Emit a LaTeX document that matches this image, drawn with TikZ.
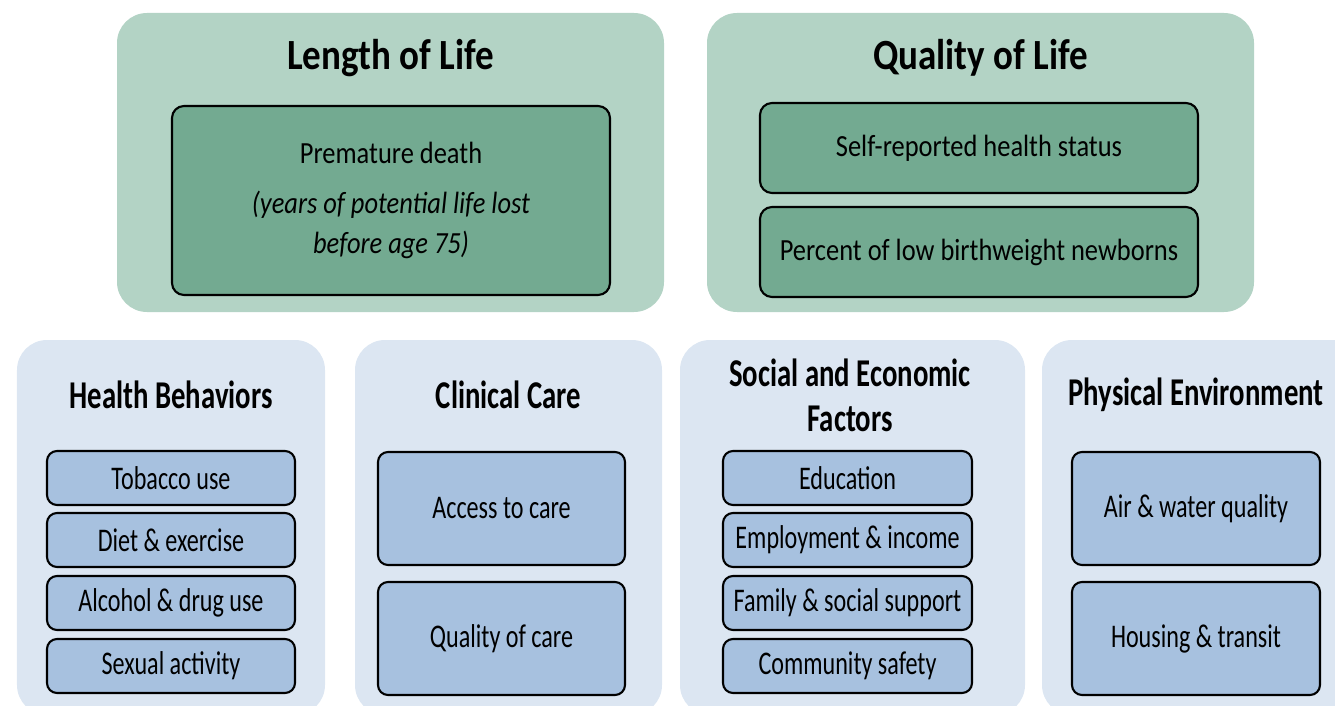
\documentclass[tikz,border=0pt]{standalone}
\usepackage{fontspec}
\setmainfont{Carlito}
% narrow cuts of the same family, for the tall lettering
\newfontfamily\outcomefont{Carlito}[FakeStretch=0.86]
\newfontfamily\factorfont{Carlito}[FakeStretch=0.73]
\definecolor{outcomeouter}{RGB}{179,211,197}
\definecolor{outcomeinner}{RGB}{115,170,145}
\definecolor{factorouter}{RGB}{220,230,242}
\definecolor{factorinner}{RGB}{167,193,223}
\tikzset{
  outcomebox/.style={fill=outcomeouter, rounded corners=0.6cm, inner sep=0pt},
  outcomeitem/.style={draw, line width=1.2pt, rounded corners=0.24cm, fill=outcomeinner, align=center, font=\outcomefont\fontsize{17.5}{20}\selectfont},
  factorbox/.style={fill=factorouter, rounded corners=0.6cm, inner sep=0pt},
  factoritem/.style={draw, line width=1.2pt, rounded corners=0.2cm, fill=factorinner, align=center, font=\factorfont\fontsize{18.8}{21}\selectfont},
  toptitle/.style={font=\outcomefont\bfseries\fontsize{24.5}{28}\selectfont},
  facttitle/.style={font=\factorfont\bfseries\fontsize{22.4}{25.5}\selectfont, align=center}
}
\begin{document}
\begin{tikzpicture}
    \path[use as bounding box, clip] (0,0) rectangle (26.7,-14.12);

    % Health outcomes: Length of Life, Quality of Life
    \node[outcomebox, minimum width=10.94cm, minimum height=5.98cm] (length) at (7.81,-3.25) {};
    \node[toptitle] (lengthtitle) at (7.81,-1.16) {Length of Life};
    \node[outcomeitem, minimum width=8.76cm, minimum height=3.78cm, font=\outcomefont\fontsize{17.5}{22.7}\selectfont] (death) at (7.82,-4.01)
        {Premature death\\[5.7pt]\textit{(years of potential life lost}\\\textit{before age 75)}};

    \node[outcomebox, minimum width=10.94cm, minimum height=5.98cm] (quality) at (19.61,-3.25) {};
    \node[toptitle] (qualitytitle) at (19.61,-1.16) {Quality of Life};
    \node[outcomeitem, minimum width=8.76cm, minimum height=1.8cm] (selfrep) at (19.58,-2.96) {Self-reported health status};
    \node[outcomeitem, minimum width=8.76cm, minimum height=1.8cm] (birthwt) at (19.58,-5.04) {Percent of low birthweight newborns};

    % Health factors
    \node[factorbox, minimum width=6.16cm, minimum height=7.5cm] (behav) at (3.42,-10.55) {};
    \node[facttitle] (behavtitle) at (3.42,-7.9) {Health Behaviors};
    \node[factoritem, minimum width=4.96cm, minimum height=1.08cm] (tobacco) at (3.42,-9.56) {Tobacco use};
    \node[factoritem, minimum width=4.96cm, minimum height=1.08cm] (diet) at (3.42,-10.8) {Diet \& exercise};
    \node[factoritem, minimum width=4.96cm, minimum height=1.08cm] (alcohol) at (3.42,-12.06) {Alcohol \& drug use};
    \node[factoritem, minimum width=4.96cm, minimum height=1.08cm] (sexual) at (3.42,-13.32) {Sexual activity};

    \node[factorbox, minimum width=6.14cm, minimum height=7.5cm] (clinic) at (10.17,-10.55) {};
    \node[facttitle] (clinictitle) at (10.17,-7.9) {Clinical Care};
    \node[factoritem, minimum width=4.94cm, minimum height=2.26cm] (access) at (10.03,-10.17) {Access to care};
    \node[factoritem, minimum width=4.94cm, minimum height=2.26cm] (carequal) at (10.03,-12.77) {Quality of care};

    \node[factorbox, minimum width=6.9cm, minimum height=7.5cm] (socio) at (17.05,-10.55) {};
    \node[facttitle] (sociotitle) at (17.0,-7.91) {Social and Economic\\Factors};
    \node[factoritem, minimum width=4.98cm, minimum height=1.08cm] (educ) at (16.95,-9.56) {Education};
    \node[factoritem, minimum width=4.98cm, minimum height=1.08cm] (employ) at (16.95,-10.8) {Employment \& income};
    \node[factoritem, minimum width=4.98cm, minimum height=1.08cm] (family) at (16.95,-12.06) {Family \& social support};
    \node[factoritem, minimum width=4.98cm, minimum height=1.08cm] (safety) at (16.95,-13.32) {Community safety};

    \node[factorbox, minimum width=6.6cm, minimum height=7.5cm] (phys) at (24.14,-10.55) {};
    \node[facttitle] (phystitle) at (23.92,-7.9) {Physical Environment};
    \node[factoritem, minimum width=4.96cm, minimum height=2.26cm] (airwater) at (23.92,-10.17) {Air \& water quality};
    \node[factoritem, minimum width=4.96cm, minimum height=2.26cm] (housing) at (23.92,-12.77) {Housing \& transit};
\end{tikzpicture}
\end{document}
